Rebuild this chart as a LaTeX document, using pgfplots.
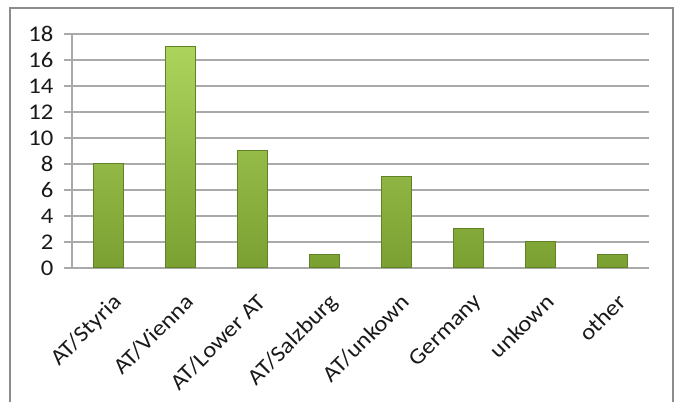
\documentclass[border=0pt]{standalone}
\usepackage{pgfplots}
\pgfplotsset{compat=1.18}
\usepackage{fontspec}
\setmainfont{Carlito}[FakeStretch=1.1]
\definecolor{gridgray}{RGB}{170,170,170}
\definecolor{framegray}{RGB}{140,140,140}
\definecolor{txt}{RGB}{25,25,25}
\definecolor{barT}{RGB}{172,212,92}
\definecolor{barB}{RGB}{122,160,50}
\definecolor{barEdge}{RGB}{98,128,38}
\begin{document}
\begin{tikzpicture}
\useasboundingbox (0,0) rectangle (678bp,402bp);
\draw[framegray, line width=1.5bp] (10bp,-5bp) -- (10bp,394bp) -- (673bp,394bp) -- (673bp,-5bp);
\begin{axis}[
  at={(72bp,134bp)}, anchor=south west,
  scale only axis, width=577bp, height=234bp,
  xmin=-0.5, xmax=7.5, ymin=0, ymax=18,
  ytick={0,2,...,18},
  xtick={0,...,7},
  xticklabels={AT/Styria,AT/Vienna,AT/Lower AT,AT/Salzburg,AT/unkown,Germany,unkown,other},
  axis x line*=bottom, axis y line*=left,
  axis line style={gridgray, line width=1.2bp, -},
  ymajorgrids, grid style={gridgray, line width=1.2bp},
  tick align=outside,
  y tick style={gridgray, line width=1.2bp},
  major tick length=8bp,
  x tick style={draw=none},
  extra x ticks={-0.5,0.5,...,7.5},
  extra x tick labels={},
  extra x tick style={grid=none, tick style={draw=gridgray, line width=1.2bp}, major tick length=8bp},
  tick label style={font=\fontsize{22.5}{26}\selectfont, text=txt},
  /pgf/number format/assume math mode=true,
  yticklabel style={xshift=-7bp},
  xticklabel style={rotate=45, anchor=north east, inner sep=1bp, xshift=-8bp, yshift=-13bp},
  ybar, bar width=30bp,
]
\addplot[draw=barEdge, line width=1bp, top color=barT, bottom color=barB]
  coordinates {(0,8) (1,17) (2,9) (3,1) (4,7) (5,3) (6,2) (7,1)};
\end{axis}
\end{tikzpicture}
\end{document}
